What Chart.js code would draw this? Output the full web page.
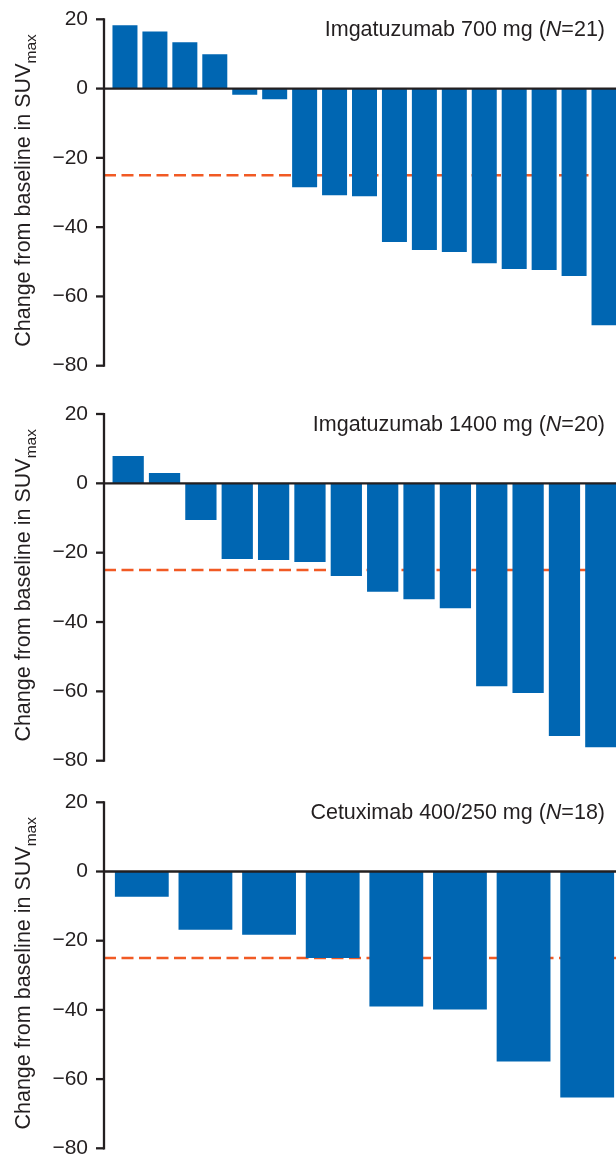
<!DOCTYPE html>
<html>
<head>
<meta charset="utf-8">
<script src="https://cdn.jsdelivr.net/npm/chart.js@4.4.1/dist/chart.umd.min.js"></script>
<style>
  html, body { margin: 0; padding: 0; background: #fff; }
  body { width: 616px; height: 1156px; overflow: hidden; position: relative; }
  .panel { position: absolute; left: 0; width: 620px; height: 390px; }
</style>
</head>
<body>
<div class="panel" style="top:0px"><canvas id="c1" width="620" height="390"></canvas></div>
<div class="panel" style="top:390px"><canvas id="c2" width="620" height="390"></canvas></div>
<div class="panel" style="top:780px"><canvas id="c3" width="620" height="390"></canvas></div>
<script>
// change from baseline in SUVmax, one bar per patient (sorted)
const imga700 = [18.3, 16.5, 13.4, 9.9, -1.8, -3.1, -28.5, -30.8, -31.1, -44.3, -46.6, -47.2, -50.4, -52.1, -52.4, -54.1, -68.3];
const imga1400 = [7.9, 3.0, -10.6, -21.8, -22.1, -22.7, -26.7, -31.3, -33.4, -36.0, -58.5, -60.5, -72.9, -76.1];
const cetux = [-7.3, -16.8, -18.3, -25.0, -39.0, -39.9, -54.9, -65.3];

const panelTitles = ['Imgatuzumab 700 mg', 'Imgatuzumab 1400 mg', 'Cetuximab 400/250 mg'];
const panelN = [21, 20, 18];
const yTicks = [20, 0, -20, -40, -60, -80];
const threshold = -25; // PET response cut-off

const FONT = '"Liberation Sans", Arial, Helvetica, sans-serif';
const INK = '#231f20';
const BLUE = '#0066b2';
const ORANGE = '#f15a24';

// extra drawing: axis line with gap, zero line, dashed cut-off, titles
const panelDeco = {
  id: 'panelDeco',
  beforeDatasetsDraw(chart) {
    const { ctx, chartArea, scales } = chart;
    const axisX = chartArea.left - 6;
    const y = scales.y.getPixelForValue(threshold);
    ctx.save();
    ctx.strokeStyle = ORANGE;
    ctx.lineWidth = 2.6;
    ctx.setLineDash([12, 5.5]);
    ctx.beginPath();
    ctx.moveTo(axisX, y);
    ctx.lineTo(chartArea.right, y);
    ctx.stroke();
    ctx.restore();
  },
  afterDatasetsDraw(chart, args, opts) {
    const { ctx, chartArea, scales } = chart;
    const yScale = scales.y;
    const axisX = chartArea.left - 6;
    ctx.save();
    ctx.strokeStyle = INK;
    ctx.lineWidth = 2.3;
    ctx.lineCap = 'butt';
    // zero line
    const y0 = yScale.getPixelForValue(0);
    ctx.beginPath();
    ctx.moveTo(axisX, y0);
    ctx.lineTo(chartArea.right, y0);
    ctx.stroke();
    // y axis line + tick marks
    const yTop = yScale.getPixelForValue(yTicks[0]);
    const yBot = yScale.getPixelForValue(yTicks[yTicks.length - 1]);
    ctx.beginPath();
    ctx.moveTo(axisX, yTop - 1.1);
    ctx.lineTo(axisX, yBot + 1.1);
    ctx.stroke();
    yTicks.forEach((v) => {
      const ty = yScale.getPixelForValue(v);
      ctx.beginPath();
      ctx.moveTo(axisX - 8, ty);
      ctx.lineTo(axisX, ty);
      ctx.stroke();
    });

    // panel title, right aligned, italic N
    ctx.fillStyle = INK;
    ctx.textBaseline = 'alphabetic';
    const normal = '21.5px ' + FONT;
    const italic = 'italic 21.5px ' + FONT;
    const p1 = opts.title + ' (';
    const p2 = 'N';
    const p3 = '=' + opts.n + ')';
    ctx.font = normal;
    const w1 = ctx.measureText(p1).width;
    const w3 = ctx.measureText(p3).width;
    ctx.font = italic;
    const w2 = ctx.measureText(p2).width;
    const tBase = chartArea.top + 17;
    let tx = 605 - (w1 + w2 + w3);
    ctx.font = normal;
    ctx.fillText(p1, tx, tBase);
    tx += w1;
    ctx.font = italic;
    ctx.fillText(p2, tx, tBase);
    tx += w2;
    ctx.font = normal;
    ctx.fillText(p3, tx, tBase);

    // rotated y title with subscript
    const main = 'Change from baseline in SUV';
    const sub = 'max';
    ctx.font = '21.5px ' + FONT;
    const wm = ctx.measureText(main).width;
    ctx.font = '15.5px ' + FONT;
    const ws = ctx.measureText(sub).width;
    const cy = (chartArea.top + chartArea.bottom) / 2 - 2;
    ctx.translate(30, cy);
    ctx.rotate(-Math.PI / 2);
    const sx = -(wm + ws) / 2;
    ctx.font = '21.5px ' + FONT;
    ctx.fillText(main, sx, 0);
    ctx.font = '15.5px ' + FONT;
    ctx.fillText(sub, sx + wm, 6);
    ctx.restore();
  },
};

Chart.defaults.font.family = FONT;
Chart.defaults.font.size = 21;
Chart.defaults.color = INK;

const makePanel = (id, values, idx, barPct, padTop, padBottom) => {
  return new Chart(document.getElementById(id), {
    type: 'bar',
    data: {
      labels: values.map((v, i) => i + 1),
      datasets: [
        {
          data: values,
          backgroundColor: BLUE,
          borderWidth: 0,
          barPercentage: barPct,
          categoryPercentage: 1,
        },
      ],
    },
    options: {
      responsive: false,
      animation: false,
      devicePixelRatio: 1,
      layout: {
        padding: { top: padTop, bottom: padBottom, left: 0, right: 1 },
      },
      plugins: {
        legend: { display: false },
        tooltip: { enabled: false },
        panelDeco: { title: panelTitles[idx], n: panelN[idx] },
      },
      scales: {
        x: { display: false },
        y: {
          min: -80,
          max: 20,
          afterBuildTicks: (scale) => {
            scale.ticks = yTicks.map((v) => ({ value: v }));
          },
          afterFit: (scale) => {
            scale.width = 110;
            // labels may overhang the plot; layout padding handles the room
            scale.paddingTop = 0;
            scale.paddingBottom = 0;
          },
          grid: { display: false, drawTicks: false },
          border: { display: false },
          ticks: {
            padding: 22,
            color: INK,
            font: { size: 21 },
            callback: (v) => String(v).replace('-', '\u2212'),
          },
        },
      },
    },
    plugins: [panelDeco],
  });
};

// canvas tops are 0 / 390 / 780, each 390 high
makePanel('c1', imga700, 0, 0.835, 19.3, 390 - 365.7);
makePanel('c2', imga1400, 1, 0.86, 414 - 390, 780 - 760.7);
makePanel('c3', cetux, 2, 0.846, 802.3 - 780, 1170 - 1148.3);
</script>
</body>
</html>
